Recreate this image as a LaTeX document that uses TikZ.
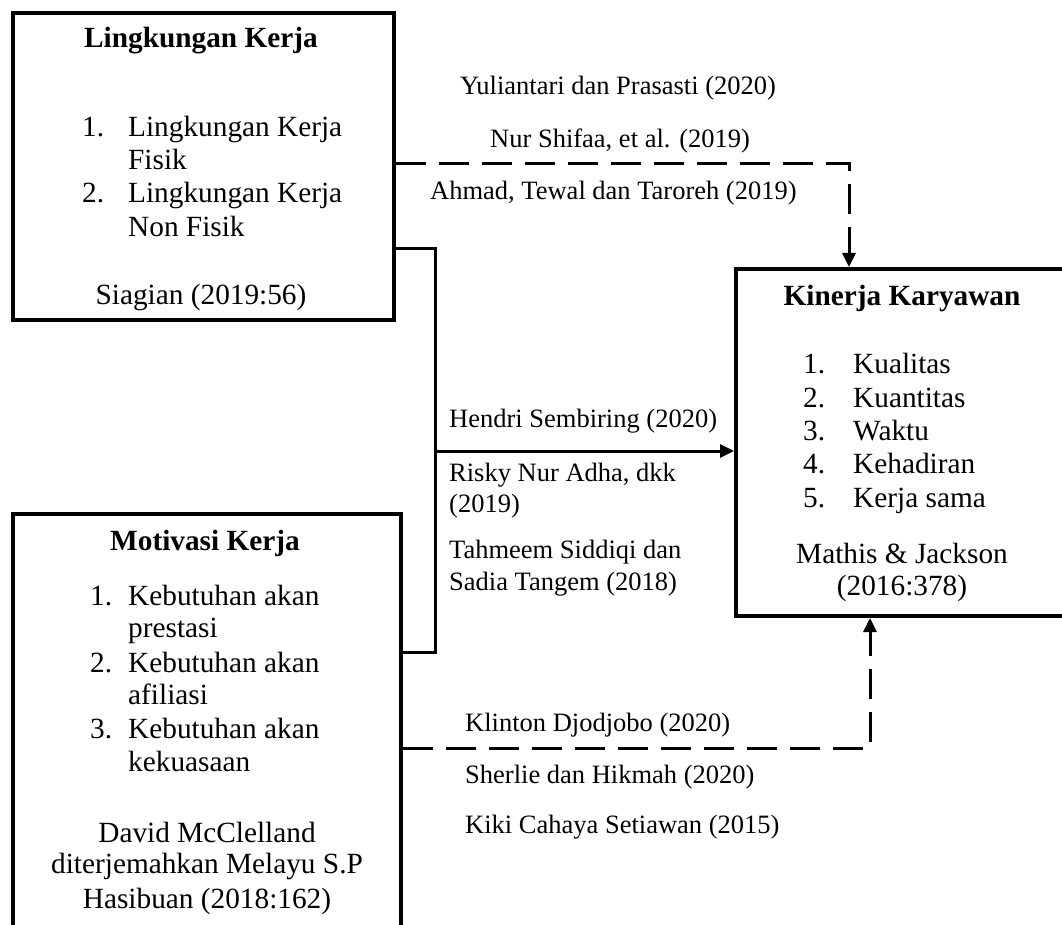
\documentclass[tikz,border=0pt]{standalone}
\usepackage{fontspec}
\setmainfont{Liberation Serif}
\usetikzlibrary{arrows.meta,calc}
\begin{document}
\begin{tikzpicture}[x=1pt,y=-1pt,
  box/.style={draw,line width=4pt,inner sep=0pt,anchor=north west},
  txt/.style={inner sep=0pt,font=\fontsize{26.5}{34}\selectfont},
  btxt/.style={inner sep=0pt,font=\fontsize{29.3}{36}\selectfont},
  lt/.style={txt,anchor=base west},
  blt/.style={btxt,anchor=base west},
  ct/.style={btxt,anchor=base},
  bt/.style={inner sep=0pt,anchor=base,font=\fontsize{29.3}{36}\selectfont\bfseries},
  conn/.style={line width=3pt},
  dconn/.style={conn,dash pattern=on 30pt off 13pt},
  tip/.style={-{Triangle[width=13pt,length=14pt]}}
]
\useasboundingbox (0,0) rectangle (1062,925);
% boxes
\node[box,minimum width=381pt,minimum height=307pt] (lk) at (11,11) {};
\node[box,minimum width=388pt,minimum height=440pt] (mk) at (11,512) {};
\node[box,minimum width=336pt,minimum height=347pt] (kk) at (734,267) {};
% box 1 text
\node[bt] (lkt) at (201,48) {Lingkungan Kerja};
\node[blt] (lkn1) at (82,137) {1.};
\node[blt] (lki1) at (128,137) {Lingkungan Kerja};
\node[blt] (lki1b) at (128,170) {Fisik};
\node[blt] (lkn2) at (82,203) {2.};
\node[blt] (lki2) at (128,203) {Lingkungan Kerja};
\node[blt] (lki2b) at (128,237) {Non Fisik};
\node[ct] (lks) at (201,304) {Siagian (2019:56)};
% box 2 text
\node[bt] (mkt) at (205,550) {Motivasi Kerja};
\node[blt] (mkn1) at (90,605) {1.};
\node[blt] (mki1) at (128,605) {Kebutuhan akan};
\node[blt] (mki1b) at (128,637) {prestasi};
\node[blt] (mkn2) at (90,672) {2.};
\node[blt] (mki2) at (128,672) {Kebutuhan akan};
\node[blt] (mki2b) at (128,704) {afiliasi};
\node[blt] (mkn3) at (90,738) {3.};
\node[blt] (mki3) at (128,738) {Kebutuhan akan};
\node[blt] (mki3b) at (128,771) {kekuasaan};
\node[ct] (mks1) at (207,842) {David McClelland};
\node[ct] (mks2) at (207,873) {diterjemahkan Melayu S.P};
\node[ct] (mks3) at (207,908) {Hasibuan (2018:162)};
% box 3 text
\node[bt] (kkt) at (902,305) {Kinerja Karyawan};
\node[blt] (kkn1) at (803,373) {1.};
\node[blt] (kki1) at (853,373) {Kualitas};
\node[blt] (kkn2) at (803,407) {2.};
\node[blt] (kki2) at (853,407) {Kuantitas};
\node[blt] (kkn3) at (803,440) {3.};
\node[blt] (kki3) at (853,440) {Waktu};
\node[blt] (kkn4) at (803,473) {4.};
\node[blt] (kki4) at (853,473) {Kehadiran};
\node[blt] (kkn5) at (803,507) {5.};
\node[blt] (kki5) at (853,507) {Kerja sama};
\node[ct] (kks1) at (902,563) {Mathis \& Jackson};
\node[ct] (kks2) at (902,595) {(2016:378)};
% labels
\node[lt] (l1) at (460,95) {Yuliantari dan Prasasti (2020)};
\node[lt] (l2) at (490,148) {Nur Shifaa, et al. (2019)};
\node[lt] (l3) at (430,200) {Ahmad, Tewal dan Taroreh (2019)};
\node[lt] (l4) at (449,427) {Hendri Sembiring (2020)};
\node[lt] (l5) at (449,481) {Risky Nur Adha, dkk};
\node[lt] (l5b) at (449,512) {(2019)};
\node[lt] (l6) at (449,558) {Tahmeem Siddiqi dan};
\node[lt] (l6b) at (449,590) {Sadia Tangem (2018)};
\node[lt] (l7) at (465,731) {Klinton Djodjobo (2020)};
\node[lt] (l8) at (465,783) {Sherlie dan Hikmah (2020)};
\node[lt] (l9) at (465,833) {Kiki Cahaya Setiawan (2015)};
% connectors
\coordinate (p1) at (849,164);
\coordinate (p2) at (435,249);
\coordinate (p3) at (435,652);
\coordinate (p4) at (435,451);
\coordinate (p5) at (870,748);
\draw[dconn,tip] (lk.east |- p1) -| (kk.north -| p1);
\draw[conn] (lk.east |- p2) -- (p2) -- (p3) -- (mk.east |- p3);
\draw[conn,tip] (p4) -- (kk.west |- p4);
\draw[dconn,tip] (mk.east |- p5) -| (kk.south -| p5);
\end{tikzpicture}
\end{document}
